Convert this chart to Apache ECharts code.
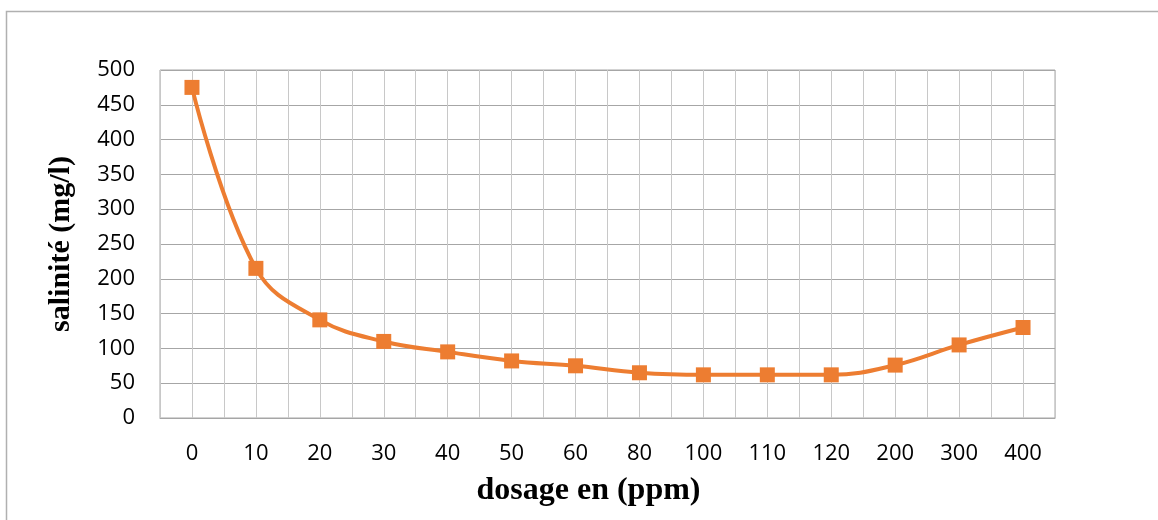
<!DOCTYPE html>
<html>
<head>
<meta charset="utf-8">
<script src="https://cdn.jsdelivr.net/npm/echarts@6/dist/echarts.min.js"></script>
<style>html,body{margin:0;padding:0;background:#fff}#c{width:1158px;height:520px}</style>
</head>
<body>
<div id="c"></div>
<script>
var categories = ['0','10','20','30','40','50','60','80','100','110','120','200','300','400'];
var salinite = [475, 215, 141, 110, 95, 82, 75, 65, 62, 62, 62, 76, 105, 130];
var xTitle = 'dosage en (ppm)';
var yTitle = 'salinité (mg/l)';

// half-category slots for the secondary (gridline-only) axis
var halfSlots = [];
categories.forEach(function (c) { halfSlots.push(c + 'a', c + 'b'); });

var chart = echarts.init(document.getElementById('c'), null, {renderer: 'canvas'});
var labelFont = {fontFamily: 'Open Sans', fontSize: 22, color: '#000'};
chart.setOption({
  animation: false,
  backgroundColor: '#fff',
  graphic: [{
    type: 'rect', silent: true,
    shape: {x: 6.5, y: 11.5, width: 1300, height: 700},
    style: {fill: null, stroke: '#b0b0b0', lineWidth: 1.5}
  }],
  grid: {left: 160, top: 70, right: 103, bottom: 102, show: true, borderColor: '#a6a6a6', borderWidth: 1},
  xAxis: [{
    type: 'category', data: categories, boundaryGap: true,
    axisLine: {show: true, lineStyle: {color: '#a6a6a6', width: 1}},
    axisTick: {show: false},
    axisLabel: Object.assign({margin: 25, interval: 0}, labelFont),
    splitLine: {show: false},
    name: xTitle, nameLocation: 'middle', nameGap: 57,
    nameTextStyle: {fontFamily: 'Liberation Serif', fontWeight: 'bold', fontSize: 32, color: '#000', padding: [0, 38, 0, 0]}
  }, {
    type: 'category', data: halfSlots, boundaryGap: true, position: 'bottom',
    axisLine: {show: false}, axisTick: {show: false}, axisLabel: {show: false},
    splitLine: {show: true, interval: 0, lineStyle: {color: '#c8c8c8', width: 1}}
  }],
  yAxis: {
    type: 'value', min: 0, max: 500, interval: 50,
    axisLine: {show: false}, axisTick: {show: false},
    axisLabel: Object.assign({margin: 25}, labelFont),
    splitLine: {show: true, lineStyle: {color: '#a6a6a6', width: 1}},
    name: yTitle, nameLocation: 'middle', nameGap: 84, nameRotate: 90,
    nameTextStyle: {fontFamily: 'Liberation Serif', fontWeight: 'bold', fontSize: 30, color: '#000'}
  },
  series: [{
    type: 'line', xAxisIndex: 0, data: salinite,
    smooth: 0.4,
    symbol: 'rect', symbolSize: 15,
    lineStyle: {color: '#ED7D31', width: 4},
    itemStyle: {color: '#ED7D31'},
    z: 5
  }]
});
</script>
</body>
</html>
